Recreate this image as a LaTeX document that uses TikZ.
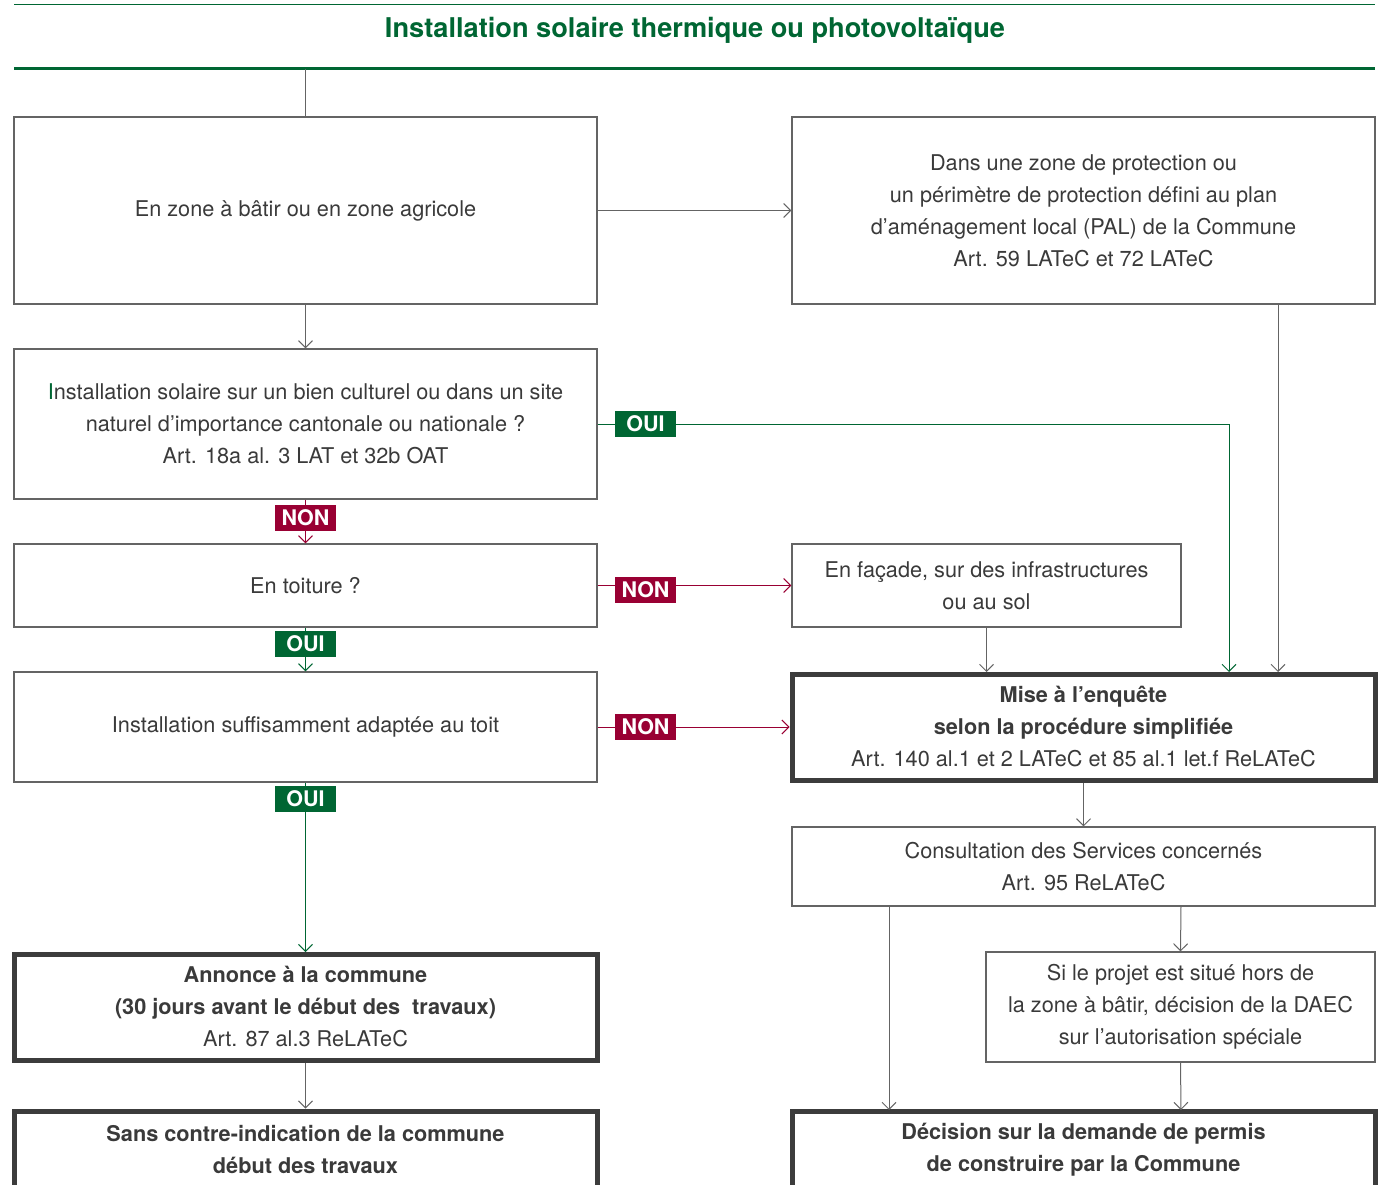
\documentclass[tikz,border=0pt]{standalone}
\usepackage{fontspec}
\setmainfont{TeX Gyre Heros}
\usetikzlibrary{arrows.meta}
\definecolor{grn}{RGB}{0,102,51}
\definecolor{crim}{RGB}{153,0,51}
\definecolor{txt}{RGB}{58,58,58}
\definecolor{thinb}{RGB}{100,100,100}
\definecolor{thickb}{RGB}{60,60,60}
\tikzset{
  base/.style={text=txt, align=center, font=\fontsize{21.7}{32}\selectfont, inner sep=0pt},
  thinbox/.style={base, draw=thinb, line width=1.2pt},
  thickbox/.style={base, draw=thickb, line width=5pt},
  conn/.style={draw=thinb, line width=1pt, -{Straight Barb[length=7pt,width=14pt,line width=1pt]}},
  plain/.style={draw=thinb, line width=1.2pt},
  gconn/.style={conn, draw=grn},
  rconn/.style={conn, draw=crim},
  tag/.style={text=white, font=\fontsize{21.5}{22}\selectfont\bfseries, inner sep=0pt, minimum width=61pt, minimum height=26pt},
  oui/.style={tag, fill=grn},
  non/.style={tag, fill=crim},
}
\begin{document}
\begin{tikzpicture}[x=1pt,y=-1pt]
\useasboundingbox (0,0) rectangle (1384,1185);
\clip (0,0) rectangle (1384,1185);
% title
\coordinate (tl) at (14,5); \coordinate (tr) at (1375,5);
\draw[grn, line width=1pt] (tl) -- (tr);
\node[font=\fontsize{27.2}{30}\selectfont\bfseries, text=grn] (title) at (695,30) {Installation solaire thermique ou photovoltaïque};
\coordinate (gl) at (14,69); \coordinate (gr) at (1375,69);
\draw[grn, line width=3pt] (gl) -- (gr);
\coordinate (gtop) at (305.5,69);

% boxes
\node[thinbox, minimum width=583, minimum height=187] (b1) at (305.5,210.5) {En zone à bâtir ou en zone agricole};
\node[thinbox, minimum width=583, minimum height=187] (b2) at (1083.5,210.5) {Dans une zone de protection ou\\un périmètre de protection défini au plan\\d’aménagement local (PAL) de la Commune\\Art. 59 LATeC et 72 LATeC};
\node[thinbox, minimum width=583, minimum height=150] (b3) at (305.5,424) {{\color{grn}I}nstallation solaire sur un bien culturel ou dans un site\\naturel d’importance cantonale ou nationale ?\\Art. 18a al. 3 LAT et 32b OAT};
\node[thinbox, minimum width=583, minimum height=83] (b4) at (305.5,585.5) {En toiture ?};
\node[thinbox, minimum width=389, minimum height=83] (b5) at (986.5,585.5) {En façade, sur des infrastructures\\ou au sol};
\node[thinbox, minimum width=583, minimum height=110] (b6) at (305.5,727) {Installation suffisamment adaptée au toit};
\node[thickbox, minimum width=583, minimum height=106] (mise) at (1083.5,727) {\textbf{Mise à l’enquête}\\\textbf{selon la procédure simplifiée}\\Art. 140 al.1 et 2 LATeC et 85 al.1 let.f ReLATeC};
\node[thinbox, minimum width=583, minimum height=79] (cons) at (1083.5,866.5) {Consultation des Services concernés\\Art. 95 ReLATeC};
\node[thinbox, minimum width=389, minimum height=110] (si) at (1180.5,1007) {Si le projet est situé hors de\\la zone à bâtir, décision de la DAEC\\sur l’autorisation spéciale};
\node[thickbox, minimum width=583, minimum height=106] (ann) at (305.5,1007) {\textbf{Annonce à la commune}\\\textbf{(30 jours avant le début des\ \ travaux)}\\Art. 87 al.3 ReLATeC};
\node[thickbox, minimum width=583, minimum height=78] (sans) at (305.5,1150) {\textbf{Sans contre-indication de la commune}\\\textbf{début des travaux}};
\node[thickbox, minimum width=583, minimum height=78] (dec) at (1083.5,1150) {\textbf{Décision sur la demande de permis}\\\textbf{de construire par la Commune}};

% connectors
\draw[plain] (gtop) -- (b1.north);
\draw[conn] (b1.east) -- (b2.west);
\draw[conn] (b1.south) -- (b3.north);
\draw[gconn] (b3.east) -- (1229,424) -- (1229,672) ;
\draw[conn] (1278,304) -- (1278,672);
\draw[rconn] (b3.south) -- (b4.north);
\draw[rconn] (b4.east) -- (b5.west);
\draw[conn] (b5.south) -- (986.5,672);
\draw[gconn] (b4.south) -- (b6.north);
\draw[rconn] (b6.east) -- (mise.west);
\draw[gconn] (b6.south) -- (305.5,952);
\draw[conn] (mise.south) -- (cons.north);
\draw[conn] (889,906) -- (889,1110);
\draw[conn] (1181,906) -- (si.north);
\draw[conn] (si.south) -- (1181,1110);
\draw[conn] (ann.south) -- (sans.north);

% tags
\node[oui] (t1) at (645.5,424) {OUI};
\node[non] (t2) at (305.5,518) {NON};
\node[non] (t3) at (645.5,590) {NON};
\node[oui] (t4) at (305.5,644) {OUI};
\node[non] (t5) at (645.5,727) {NON};
\node[oui] (t6) at (305.5,799) {OUI};
\end{tikzpicture}
\end{document}
